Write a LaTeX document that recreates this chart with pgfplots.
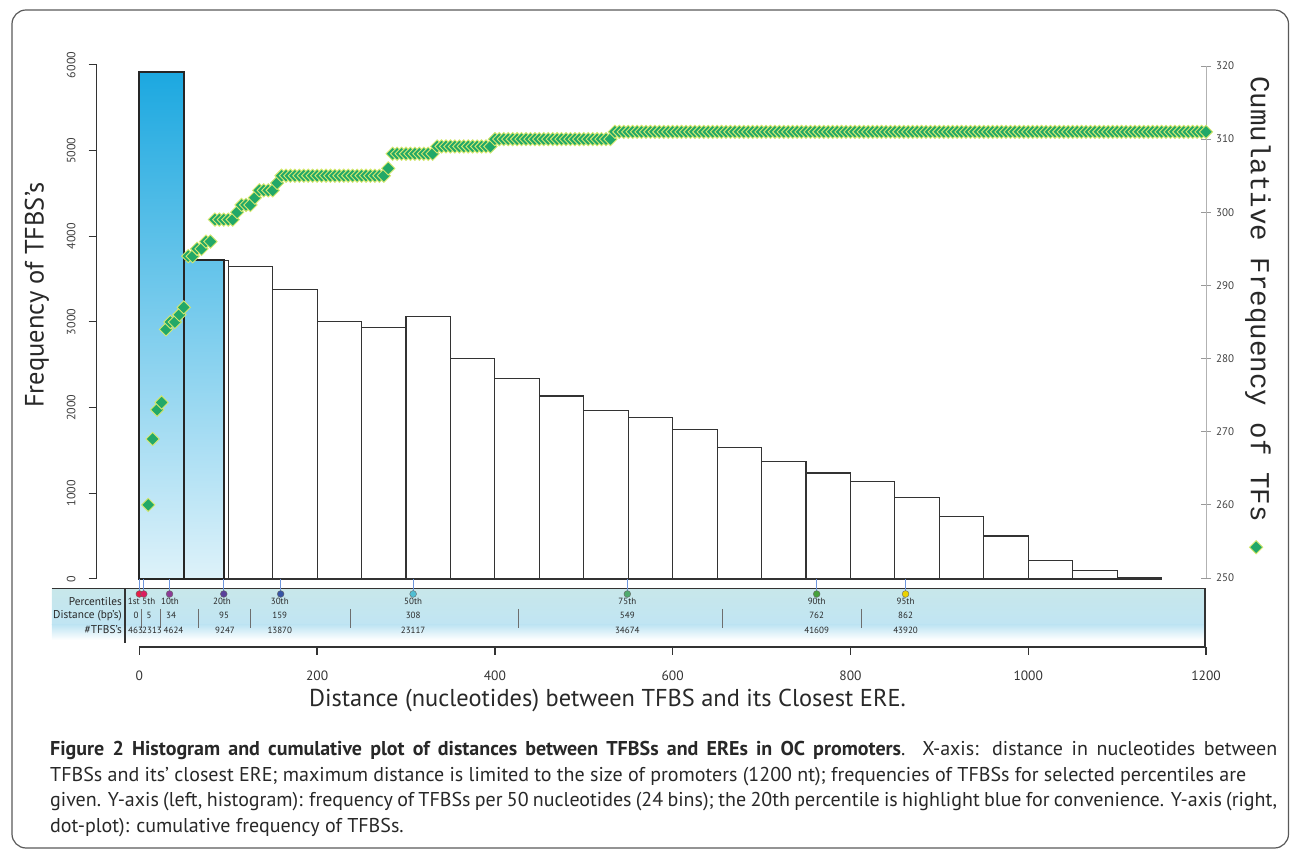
\documentclass[border=0pt]{standalone}
\usepackage{pgfplots}
\pgfplotsset{compat=1.18}
\usepackage{fontspec}
\setmainfont{PT Sans}
\newfontfamily\monofont{Liberation Mono}
\definecolor{bluetop}{RGB}{28,168,224}
\definecolor{bluebot}{RGB}{222,242,250}
\definecolor{bluemid}{RGB}{98,195,234}
\definecolor{dotgreen}{RGB}{34,168,104}
\definecolor{dotedge}{RGB}{214,232,110}
\definecolor{bandtop}{RGB}{200,231,234}
\definecolor{bandbot}{RGB}{192,229,243}
\definecolor{pline}{RGB}{110,150,220}
\definecolor{sepgray}{RGB}{110,110,110}
\definecolor{pA}{RGB}{230,30,70}
\definecolor{pB}{RGB}{220,30,95}
\definecolor{pC}{RGB}{140,60,150}
\definecolor{pD}{RGB}{90,65,155}
\definecolor{pE}{RGB}{55,85,165}
\definecolor{pF}{RGB}{80,190,210}
\definecolor{pG}{RGB}{80,170,110}
\definecolor{pH}{RGB}{70,160,60}
\definecolor{pI}{RGB}{235,210,0}
\definecolor{txt}{RGB}{40,40,40}
\pgfplotsset{/pgf/number format/1000 sep={}}
\tikzset{st/.style={font=\fontsize{9}{9}\selectfont, inner sep=0pt, anchor=center, text=txt},
  rl/.style={font=\fontsize{11.3}{11.3}\selectfont, inner sep=0pt, anchor=east, text=txt},
  sepl/.style={line width=0.7pt, draw=sepgray}}
\begin{document}
\begin{tikzpicture}[x=1pt,y=1pt]
\useasboundingbox (0,0) rectangle (1290,851);
\draw[rounded corners=14pt, line width=1.2pt, black!65] (12,3) rectangle (1288.5,841);
% ---------------- histogram axis
\begin{axis}[
  at={(96.67pt,272pt)}, anchor=south west, scale only axis,
  width=1109.33pt, height=514pt,
  xmin=-48, xmax=1200, ymin=0, ymax=6000,
  clip=false,
  axis x line=none, axis y line*=left,
  xtick=\empty,
  ytick={0,1000,...,6000}, scaled y ticks=false,
  y axis line style={line width=1.2pt, black!80, -},
  ytick style={line width=1pt, black!80},
  tick align=outside, major tick length=8pt,
  /pgf/number format/assume math mode=true,
  yticklabel style={font=\fontsize{12}{12}\selectfont, text=black!75, xshift=-13pt, rotate=90, anchor=south, inner sep=0pt},
]
% percentile strip
\shade[top color=bandtop, bottom color=bandbot] (axis cs:-98.3,-108.6) rectangle (axis cs:1199,-537);
\shade[top color=bandbot, bottom color=white] (axis cs:-98.3,-537) rectangle (axis cs:1199,-712);
\draw[line width=1.5pt, black!80] (axis cs:-98.3,-108.6) -- (axis cs:1199,-108.6) -- (axis cs:1199,-794);
\draw[line width=2pt, black!80] (axis cs:-16.1,-108.6) -- (axis cs:-16.1,-747);
\draw[sepl] (axis cs:2.7,-350) -- (axis cs:2.7,-572);
\draw[sepl] (axis cs:24.1,-350) -- (axis cs:24.1,-572);
\draw[sepl] (axis cs:66.4,-350) -- (axis cs:66.4,-572);
\draw[sepl] (axis cs:125.3,-350) -- (axis cs:125.3,-572);
\draw[sepl] (axis cs:237.8,-350) -- (axis cs:237.8,-572);
\draw[sepl] (axis cs:426.5,-350) -- (axis cs:426.5,-572);
\draw[sepl] (axis cs:655.5,-350) -- (axis cs:655.5,-572);
\draw[sepl] (axis cs:811.9,-350) -- (axis cs:811.9,-572);
% histogram
\addplot[ybar interval, fill=white, draw=black!80, line width=1.1pt] coordinates {
(0,5920)(50,3722)(100,3650)(150,3380)(200,3010)(250,2940)(300,3062)(350,2576)
(400,2338)(450,2136)(500,1965)(550,1883)(600,1747)(650,1533)(700,1374)(750,1237)
(800,1136)(850,949)(900,727)(950,502)(1000,214)(1050,97)(1100,20)(1150,0)};
\addplot[ybar interval, draw=black!85, line width=2pt, top color=bluetop, bottom color=bluebot] coordinates {(0,5920)(50,5920)};
\addplot[ybar interval, draw=black!85, line width=2pt, top color=bluemid, bottom color=bluebot] coordinates {(50,3722)(95,3722)};
% percentile markers
\addplot[ycomb, draw=pline, line width=0.7pt] coordinates {(0,-175)(5,-175)(34,-175)(95,-175)(159,-175)(308,-175)(549,-175)(762,-175)(862,-175)};
\addplot[scatter, only marks, mark=*, mark size=3.4pt, point meta=explicit symbolic,
  scatter/classes={
   a={fill=pA, draw=black!60}, b={fill=pB, draw=black!60},
   c={fill=pC, draw=black!60}, d={fill=pD, draw=black!60},
   e={fill=pE, draw=black!60}, f={fill=pF, draw=black!60},
   g={fill=pG, draw=black!60}, h={fill=pH, draw=black!60},
   i={fill=pI, draw=black!60}}]
 table[meta=c, row sep=\\] {x y c\\ 0 -175 a\\ 5 -175 b\\ 34 -175 c\\ 95 -175 d\\ 159 -175 e\\ 308 -175 f\\ 549 -175 g\\ 762 -175 h\\ 862 -175 i\\};
% strip texts
\node[rl] at (axis cs:-19.5,-265) {Percentiles};
\node[rl] at (axis cs:-19.5,-428) {Distance (bp’s)};
\node[rl] at (axis cs:-19.5,-595) {\#TFBS’s};
\node[st] at (axis cs:-6.2,-265) {1st};
\node[st] at (axis cs:10.8,-265) {5th};
\node[st] at (axis cs:34.5,-265) {10th};
\node[st] at (axis cs:93,-265) {20th};
\node[st] at (axis cs:158,-265) {30th};
\node[st] at (axis cs:308,-265) {50th};
\node[st] at (axis cs:549,-265) {75th};
\node[st] at (axis cs:762,-265) {90th};
\node[st] at (axis cs:862,-265) {95th};
\node[st] at (axis cs:-3.7,-428) {0};
\node[st] at (axis cs:10.9,-428) {5};
\node[st] at (axis cs:35.7,-428) {34};
\node[st] at (axis cs:95.3,-428) {95};
\node[st] at (axis cs:158,-428) {159};
\node[st] at (axis cs:308,-428) {308};
\node[st] at (axis cs:549,-428) {549};
\node[st] at (axis cs:762,-428) {762};
\node[st] at (axis cs:862,-428) {862};
\node[st] at (axis cs:-4.2,-595) {463};
\node[st] at (axis cs:14.3,-595) {2313};
\node[st] at (axis cs:38.5,-595) {4624};
\node[st] at (axis cs:96.4,-595) {9247};
\node[st] at (axis cs:158,-595) {13870};
\node[st] at (axis cs:308,-595) {23117};
\node[st] at (axis cs:549,-595) {34674};
\node[st] at (axis cs:762,-595) {41609};
\node[st] at (axis cs:862,-595) {43920};
\end{axis}
% ---------------- cumulative axis
\begin{axis}[
  at={(96.67pt,273pt)}, anchor=south west, scale only axis,
  width=1109.33pt, height=512pt,
  xmin=-48, xmax=1200, ymin=250, ymax=320,
  clip=false,
  axis x line=none, axis y line*=right,
  xtick=\empty,
  ytick={250,260,...,320},
  y axis line style={black!30, line width=1pt, -},
  ytick style={black!40, line width=0.8pt},
  tick align=center, major tick length=10pt,
  /pgf/number format/assume math mode=true,
  yticklabel style={anchor=west, font=\fontsize{11}{11}\selectfont, text=black!75, inner sep=0pt, xshift=5pt},
  legend style={at={(axis cs:1257,254.2)}, anchor=center, draw=none, fill=none, inner sep=0pt, nodes={inner sep=0pt}},
]
\addplot[only marks, mark=square*, mark size=4.7pt, mark options={rotate=45, fill=dotgreen, draw=dotedge, line width=0.9pt}]
 table[row sep=\\] {x y\\
10 260\\15 269\\20 273\\25 274\\30 284\\35 285\\40 285\\45 286\\50 287\\55 294\\
60 294\\65 295\\70 295\\75 296\\80 296\\85 299\\90 299\\95 299\\100 299\\105 299\\
110 300\\115 301\\120 301\\125 301\\130 302\\135 303\\140 303\\145 303\\150 303\\155 304\\
160 305\\165 305\\170 305\\175 305\\180 305\\185 305\\190 305\\195 305\\200 305\\205 305\\
210 305\\215 305\\220 305\\225 305\\230 305\\235 305\\240 305\\245 305\\250 305\\255 305\\
260 305\\265 305\\270 305\\275 305\\280 306\\
285 308\\290 308\\295 308\\300 308\\305 308\\310 308\\315 308\\320 308\\325 308\\330 308\\
335 309\\340 309\\345 309\\350 309\\355 309\\360 309\\365 309\\370 309\\375 309\\380 309\\
385 309\\390 309\\395 309\\
400 310\\405 310\\410 310\\415 310\\420 310\\425 310\\430 310\\435 310\\440 310\\445 310\\
450 310\\455 310\\460 310\\465 310\\470 310\\475 310\\480 310\\485 310\\490 310\\495 310\\
500 310\\505 310\\510 310\\515 310\\520 310\\525 310\\530 310\\
535 311\\540 311\\545 311\\550 311\\555 311\\560 311\\565 311\\570 311\\575 311\\580 311\\
585 311\\590 311\\595 311\\600 311\\605 311\\610 311\\615 311\\620 311\\625 311\\630 311\\
635 311\\640 311\\645 311\\650 311\\655 311\\660 311\\665 311\\670 311\\675 311\\680 311\\
685 311\\690 311\\695 311\\700 311\\705 311\\710 311\\715 311\\720 311\\725 311\\730 311\\
735 311\\740 311\\745 311\\750 311\\755 311\\760 311\\765 311\\770 311\\775 311\\780 311\\
785 311\\790 311\\795 311\\800 311\\805 311\\810 311\\815 311\\820 311\\825 311\\830 311\\
835 311\\840 311\\845 311\\850 311\\855 311\\860 311\\865 311\\870 311\\875 311\\880 311\\
885 311\\890 311\\895 311\\900 311\\905 311\\910 311\\915 311\\920 311\\925 311\\930 311\\
935 311\\940 311\\945 311\\950 311\\955 311\\960 311\\965 311\\970 311\\975 311\\980 311\\
985 311\\990 311\\995 311\\1000 311\\1005 311\\1010 311\\1015 311\\1020 311\\1025 311\\1030 311\\
1035 311\\1040 311\\1045 311\\1050 311\\1055 311\\1060 311\\1065 311\\1070 311\\1075 311\\1080 311\\
1085 311\\1090 311\\1095 311\\1100 311\\1105 311\\1110 311\\1115 311\\1120 311\\1125 311\\1130 311\\
1135 311\\1140 311\\1145 311\\1150 311\\1155 311\\1160 311\\1165 311\\1170 311\\1175 311\\1180 311\\
1185 311\\1190 311\\1195 311\\1200 311\\};
\addlegendentry{}
\end{axis}
% ---------------- bottom distance axis
\begin{axis}[
  at={(139.33pt,204pt)}, anchor=south west, scale only axis,
  width=1066.67pt, height=10pt,
  xmin=0, xmax=1200, ymin=0, ymax=1,
  axis y line=none, axis x line*=bottom, ytick=\empty,
  xtick={0,200,...,1200},
  tick align=outside, major tick length=8pt,
  x axis line style={line width=1.3pt, black!80, -},
  xtick style={line width=1.3pt, black!80},
  /pgf/number format/assume math mode=true,
  xticklabel style={font=\fontsize{13.5}{13.5}\selectfont, text=black!80, anchor=north, inner sep=0pt, yshift=-16pt},
]
\end{axis}
% ---------------- labels
\node[font=\fontsize{24.4}{24.4}\selectfont, text=txt, anchor=base] at (607.5,144) {Distance (nucleotides) between TFBS and its Closest ERE.};
\node[font=\fontsize{26.5}{26.5}\selectfont, text=txt, rotate=90] at (37,556) {Frequency of TFBS’s};
\node[font=\monofont\fontsize{27.5}{27.5}\selectfont, text=txt, rotate=-90] at (1258,552) {Cumulative Frequency of TFs};
% ---------------- caption
\begin{scope}[every node/.style={anchor=base west, inner sep=0pt, text=txt, font=\fontsize{20}{22}\selectfont}]
\node at (50,95) {\makebox[1227pt][s]{\textbf{Figure 2 Histogram and cumulative plot of distances between TFBSs and EREs in OC promoters}. X-axis: distance in nucleotides between}};
\node at (50,69) {TFBSs and its’ closest ERE; maximum distance is limited to the size of promoters (1200 nt); frequencies of TFBSs for selected percentiles are};
\node at (50,44) {\makebox[1227pt][s]{given. Y-axis (left, histogram): frequency of TFBSs per 50 nucleotides (24 bins); the 20th percentile is highlight blue for convenience. Y-axis (right,}};
\node at (50,18) {dot-plot): cumulative frequency of TFBSs.};
\end{scope}
\end{tikzpicture}
\end{document}
